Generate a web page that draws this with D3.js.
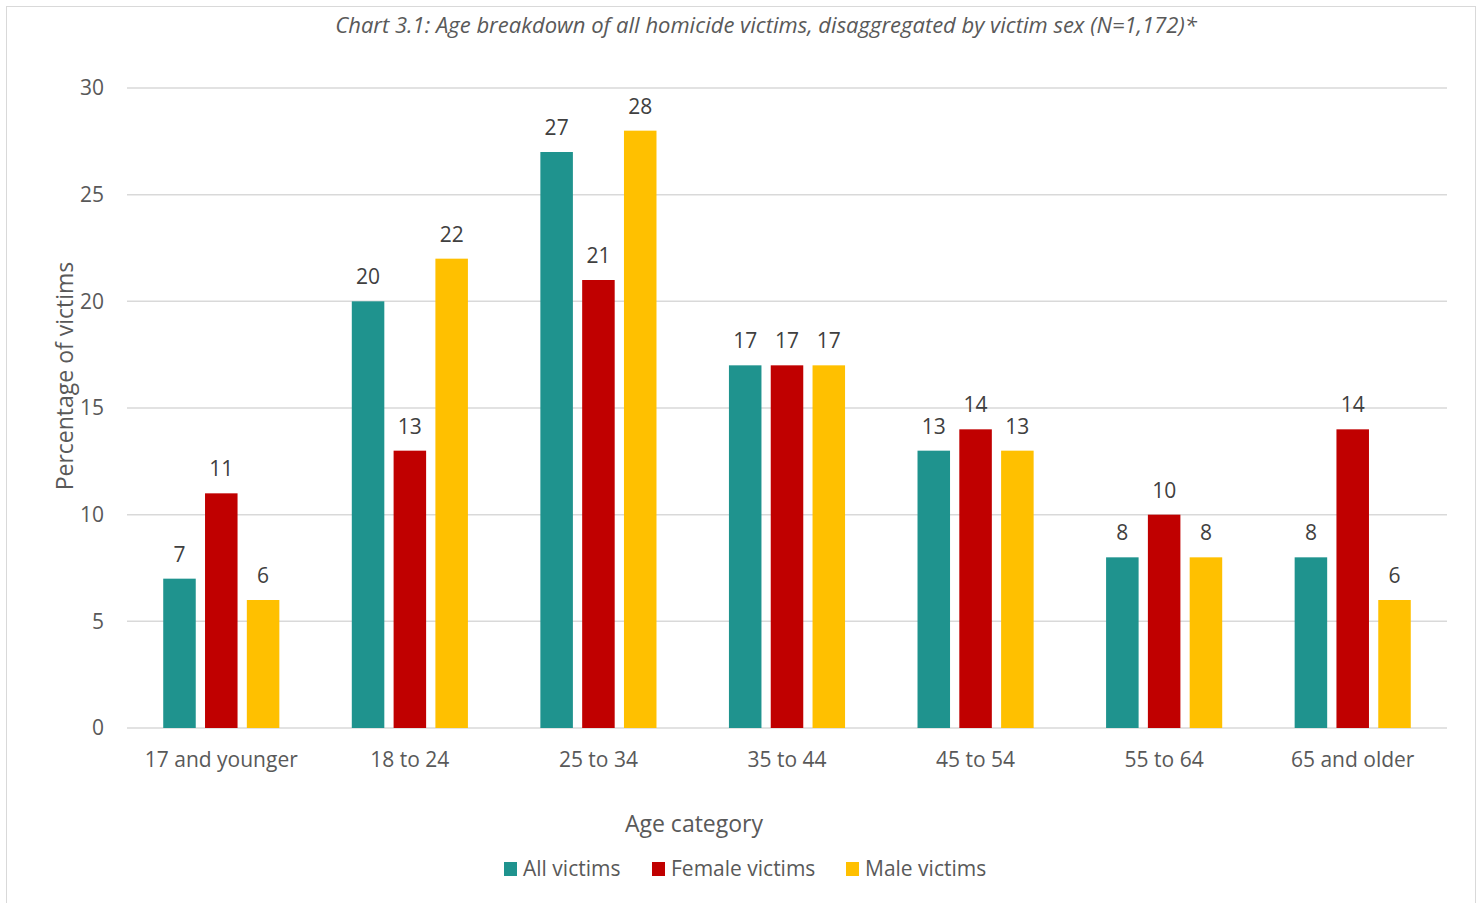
<!DOCTYPE html>
<html>
<head>
<meta charset="utf-8">
<script src="https://cdn.jsdelivr.net/npm/d3@7"></script>
<style>
  body { margin: 0; background: #fff; }
  text { font-family: "Open Sans", "Noto Sans", sans-serif; fill: #595959; }
</style>
</head>
<body>
<div id="chart"></div>
<script>
const categories = ['17 and younger', '18 to 24', '25 to 34', '35 to 44', '45 to 54', '55 to 64', '65 and older']
const seriesNames = ['All victims', 'Female victims', 'Male victims']
const seriesColors = ['#1F938E', '#C00000', '#FFC000']
const allVictims = [7, 20, 27, 17, 13, 8, 8]
const femaleVictims = [11, 13, 21, 17, 14, 10, 14]
const maleVictims = [6, 22, 28, 17, 13, 8, 6]
const yTicks = [0, 5, 10, 15, 20, 25, 30]

const width = 1479,
    height = 903

const margin = { top: 88, right: 32, bottom: 175, left: 127 }

const svg = d3.select('#chart').append('svg')
    .attr('width', width)
    .attr('height', height)

// outer frame
svg.append('rect')
    .attr('x', 6.5).attr('y', 6.5)
    .attr('width', 1469).attr('height', 910)
    .attr('fill', 'none')
    .attr('stroke', '#d9d9d9')
    .attr('stroke-width', 1)

svg.append('text')
    .attr('x', 766).attr('y', 33)
    .attr('text-anchor', 'middle')
    .style('font-style', 'italic')
    .style('font-size', '22px')
    .text('Chart 3.1: Age breakdown of all homicide victims, disaggregated by victim sex (N=1,172)*')

const series = [allVictims, femaleVictims, maleVictims]
const rows = categories.map((c, i) => ({ cat: c, values: series.map((s, j) => ({ key: seriesNames[j], value: s[i], color: seriesColors[j] })) }))

const x0 = d3.scaleBand()
    .domain(categories)
    .range([margin.left, width - margin.right])
    .paddingInner(0.335)
    .paddingOuter(0.1675)

const x1 = d3.scaleBand()
    .domain(seriesNames)
    .range([0, x0.bandwidth()])
    .paddingInner(0.222)
    .paddingOuter(0.111)

const y = d3.scaleLinear()
    .domain([0, 30])
    .range([height - margin.bottom, margin.top])

// gridlines
svg.append('g')
    .selectAll('line')
    .data(yTicks)
    .enter().append('line')
    .attr('x1', margin.left)
    .attr('x2', width - margin.right)
    .attr('y1', d => y(d))
    .attr('y2', d => y(d))
    .attr('stroke', '#d9d9d9')
    .attr('stroke-width', 1.5)

svg.append('g')
    .selectAll('text')
    .data(yTicks)
    .enter().append('text')
    .attr('x', 104)
    .attr('y', d => y(d))
    .attr('dy', '0.35em')
    .attr('text-anchor', 'end')
    .style('font-size', '21px')
    .text(d => d)

// bars
const groups = svg.selectAll('.grp')
    .data(rows)
    .enter().append('g')
    .attr('class', 'grp')
    .attr('transform', d => `translate(${x0(d.cat)},0)`)

groups.selectAll('rect')
    .data(d => d.values)
    .enter().append('rect')
    .attr('x', d => x1(d.key))
    .attr('y', d => y(d.value))
    .attr('width', x1.bandwidth())
    .attr('height', d => y(0) - y(d.value))
    .attr('fill', d => d.color)

groups.selectAll('.lbl')
    .data(d => d.values)
    .enter().append('text')
    .attr('class', 'lbl')
    .attr('x', d => x1(d.key) + x1.bandwidth() / 2)
    .attr('y', d => y(d.value) - 17)
    .attr('text-anchor', 'middle')
    .style('font-size', '21px')
    .style('fill', '#404040')
    .text(d => d.value)

// category labels
svg.append('g')
    .selectAll('text')
    .data(categories)
    .enter().append('text')
    .attr('x', d => x0(d) + x0.bandwidth() / 2)
    .attr('y', 767)
    .attr('text-anchor', 'middle')
    .style('font-size', '21px')
    .text(d => d)

// axis titles
svg.append('text')
    .attr('transform', 'translate(73,376) rotate(-90)')
    .attr('text-anchor', 'middle')
    .style('font-size', '23px')
    .text('Percentage of victims')

svg.append('text')
    .attr('x', 694).attr('y', 832)
    .attr('text-anchor', 'middle')
    .style('font-size', '23px')
    .text('Age category')

// legend
const legendX = [504, 652, 846]
const legend = svg.selectAll('.leg')
    .data(seriesNames)
    .enter().append('g')
    .attr('class', 'leg')
    .attr('transform', (d, i) => `translate(${legendX[i]},862)`)

legend.append('rect')
    .attr('width', 13).attr('height', 14)
    .attr('fill', (d, i) => seriesColors[i])

legend.append('text')
    .attr('x', 19).attr('y', 7)
    .attr('dy', '0.35em')
    .style('font-size', '21px')
    .text(d => d)
</script>
</body>
</html>
